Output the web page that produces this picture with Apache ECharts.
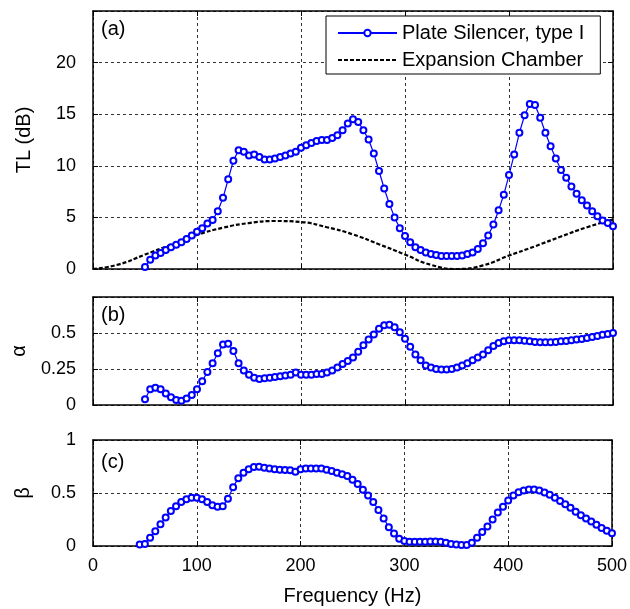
<!DOCTYPE html>
<html>
<head>
<meta charset="utf-8">
<script src="https://cdn.jsdelivr.net/npm/echarts@6/dist/echarts.min.js"></script>
<style>html,body{margin:0;padding:0;background:#fff;}#c{width:630px;height:609px;}</style>
</head>
<body>
<div id="c"></div>
<script>
const freq = [50,55,60,65,70,75,80,85,90,95,100,105,110,115,120,125,130,135,140,145,150,155,160,165,170,175,180,185,190,195,200,205,210,215,220,225,230,235,240,245,250,255,260,265,270,275,280,285,290,295,300,305,310,315,320,325,330,335,340,345,350,355,360,365,370,375,380,385,390,395,400,405,410,415,420,425,430,435,440,445,450,455,460,465,470,475,480,485,490,495,500];
const tlPlate = [0.2,0.9,1.3,1.55,1.85,2.1,2.35,2.6,2.9,3.25,
 3.6,3.95,4.4,4.75,5.6,6.9,8.7,10.5,11.5,11.35,
 11.0,11.1,10.85,10.6,10.6,10.7,10.85,11.0,11.2,11.35,
 11.75,12.0,12.2,12.4,12.5,12.5,12.7,12.95,13.45,14.1,
 14.5,14.25,13.45,12.55,11.2,9.5,7.8,6.3,5.0,3.95,
 3.2,2.6,2.1,1.85,1.6,1.45,1.35,1.25,1.25,1.25,
 1.25,1.3,1.45,1.6,1.95,2.5,3.25,4.3,5.7,7.2,
 9.1,11.1,13.2,14.9,16.0,15.9,14.65,13.2,11.9,10.7,
 9.6,8.85,8.0,7.3,6.65,6.15,5.6,5.1,4.7,4.45,4.15];
const alphaVals = [0.04,0.11,0.12,0.11,0.08,0.053,0.035,0.03,0.046,0.07,
 0.11,0.165,0.23,0.29,0.36,0.42,0.425,0.375,0.29,0.24,
 0.21,0.19,0.18,0.185,0.19,0.195,0.2,0.205,0.21,0.225,
 0.21,0.21,0.21,0.215,0.215,0.225,0.24,0.26,0.285,0.305,
 0.33,0.37,0.415,0.455,0.49,0.53,0.553,0.558,0.54,0.505,
 0.46,0.405,0.35,0.31,0.275,0.26,0.25,0.247,0.247,0.25,
 0.26,0.275,0.29,0.31,0.33,0.35,0.38,0.41,0.43,0.442,
 0.45,0.45,0.45,0.447,0.442,0.438,0.435,0.435,0.435,0.438,
 0.442,0.445,0.45,0.454,0.458,0.465,0.472,0.48,0.488,0.493,0.5];
const betaFreq = [45,50,55,60,65,70,75,80,85,90,95,100,105,110,115,120,125,130,135,140,145,150,155,160,165,170,175,180,185,190,195,200,205,210,215,220,225,230,235,240,245,250,255,260,265,270,275,280,285,290,295,300,305,310,315,320,325,330,335,340,345,350,355,360,365,370,375,380,385,390,395,400,405,410,415,420,425,430,435,440,445,450,455,460,465,470,475,480,485,490,495,500];
const betaVals = [0.015,0.02,
 0.077,0.14,0.205,0.27,0.33,0.375,0.415,0.44,0.455,
 0.455,0.44,0.415,0.385,0.37,0.375,0.445,0.555,0.64,0.69,
 0.723,0.745,0.748,0.738,0.73,0.723,0.72,0.717,0.714,0.7,
 0.723,0.73,0.732,0.732,0.73,0.72,0.708,0.69,0.677,0.66,
 0.625,0.585,0.53,0.477,0.415,0.34,0.26,0.178,0.117,0.068,
 0.046,0.04,0.04,0.04,0.04,0.043,0.043,0.04,0.03,0.02,
 0.015,0.01,0.01,0.03,0.077,0.132,0.185,0.25,0.315,0.37,
 0.43,0.477,0.508,0.523,0.532,0.532,0.523,0.505,0.483,0.455,
 0.425,0.394,0.36,0.323,0.29,0.26,0.23,0.2,0.17,0.145,0.12];
const ecFreq = [0,25,50,75,100,125,150,175,200,225,250,275,300,325,350,375,400,425,450,475,500];
const ecVals = [0,0.45,1.4,2.35,3.3,4.0,4.45,4.65,4.55,4.05,3.35,2.4,1.4,0.4,0.0,0.35,1.3,2.2,3.15,4.05,4.8];
const xTicks = [0,100,200,300,400,500];
const seriesNames = ['Plate Silencer, type I','Expansion Chamber'];
const panelLabels = ['(a)','(b)','(c)'];
const yNames = ['TL (dB)','\u03b1','\u03b2'];

const FONT = 'Liberation Sans, Arial, Helvetica, sans-serif';
const BLUE = '#0000ff';
const pairs = (xs, ys) => xs.map((x, i) => [x, ys[i]]);

const grids = [
  {left:93, top:11, width:520, height:258},
  {left:93, top:297, width:520, height:108},
  {left:93, top:440, width:520, height:106}
];
const yCfg = [
  {max:25, interval:5, hide:25, gap:59},
  {max:0.75, interval:0.25, hide:0.75, gap:64},
  {max:1, interval:0.5, hide:null, gap:60}
];
const axLine = {show:true, onZero:false, lineStyle:{color:'#000', width:1.5}};
const tick = {show:true, inside:true, length:5, lineStyle:{color:'#000', width:1}};
const split = {show:true, lineStyle:{color:'#333', type:[3,3], width:1}};

const xAxis = [], yAxis = [];
grids.forEach((g, i) => {
  xAxis.push({type:'value', gridIndex:i, min:0, max:500, interval:100, position:'bottom',
    axisLine:axLine, axisTick:tick, splitLine:split,
    axisLabel:{show:i===2, fontSize:18, color:'#000', fontFamily:FONT, margin:11},
    name: i===2 ? 'Frequency (Hz)' : '', nameLocation:'middle', nameGap:40,
    nameTextStyle:{fontSize:20, color:'#000', fontFamily:FONT}});
  const c = yCfg[i];
  yAxis.push({type:'value', gridIndex:i, min:0, max:c.max, interval:c.interval, position:'left',
    axisLine:axLine, axisTick:tick, splitLine:split,
    axisLabel:{fontSize:18, color:'#000', fontFamily:FONT, margin:17,
      formatter: v => (c.hide !== null && Math.abs(v - c.hide) < 1e-9) ? '' : String(v)},
    name:yNames[i], nameLocation:'middle', nameGap:c.gap,
    nameTextStyle:{fontSize:20, color:'#000', fontFamily:FONT}});
});
grids.forEach((g, i) => {
  xAxis.push({type:'value', gridIndex:i, min:0, max:500, interval:100, position:'top',
    axisLine:axLine, axisTick:tick, splitLine:{show:false}, axisLabel:{show:false}});
  const c = yCfg[i];
  yAxis.push({type:'value', gridIndex:i, min:0, max:c.max, interval:c.interval, position:'right',
    axisLine:axLine, axisTick:tick, splitLine:{show:false}, axisLabel:{show:false}});
});

const markerSeries = (name, xi, data) => ({
  name, type:'line', xAxisIndex:xi, yAxisIndex:xi, data,
  symbol:'emptyCircle', symbolSize:6, showSymbol:true,
  lineStyle:{color:BLUE, width:1.2}, itemStyle:{color:BLUE, borderColor:BLUE, borderWidth:1},
  animation:false, z:3
});

const option = {
  animation:false,
  backgroundColor:'#fff',
  grid: grids,
  xAxis, yAxis,
  legend: {
    data: [
      {name:seriesNames[0]},
      {name:seriesNames[1], itemStyle:{opacity:0}}
    ],
    orient:'vertical', left:326, top:16,
    itemWidth:59, itemHeight:8, itemGap:7,
    padding:[7,16,4,11],
    backgroundColor:'#fff', borderColor:'#000', borderWidth:1,
    textStyle:{fontSize:20, color:'#000', fontFamily:FONT, lineHeight:20}
  },
  graphic: panelLabels.map((t, i) => ({
    type:'text', left:101, top:[19, 305, 452][i], z:10,
    style:{text:t, fontSize:20, fontFamily:FONT, fill:'#000'}
  })),
  series: [
    markerSeries(seriesNames[0], 0, pairs(freq, tlPlate)),
    {name:seriesNames[1], type:'line', xAxisIndex:0, yAxisIndex:0, data:pairs(ecFreq, ecVals),
      smooth:true, symbol:'none', showSymbol:false,
      lineStyle:{color:'#000', width:2.2, type:[4,2]}, itemStyle:{color:'#000'}, z:2},
    markerSeries('alpha', 1, pairs(freq, alphaVals)),
    markerSeries('beta', 2, pairs(betaFreq, betaVals))
  ]
};
const chart = echarts.init(document.getElementById('c'), null, {renderer:'canvas'});
chart.setOption(option);
</script>
</body>
</html>
